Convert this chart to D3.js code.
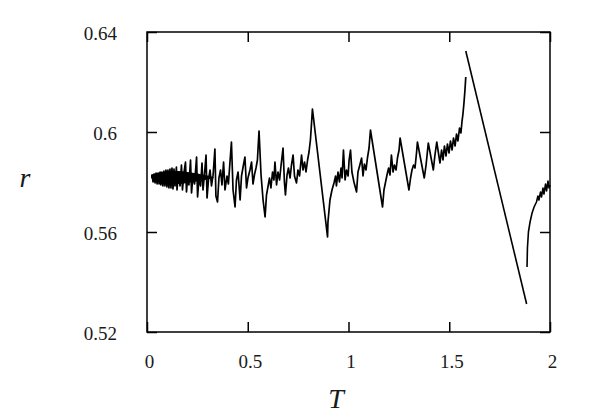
<!DOCTYPE html>
<html>
<head>
<meta charset="utf-8">
<script src="https://cdn.jsdelivr.net/npm/d3@7"></script>
<style>
  html, body { margin: 0; padding: 0; background: #fff; }
  svg { display: block; }
  text { font-family: "Liberation Serif", "DejaVu Serif", serif; fill: #1a1a1a; }
</style>
</head>
<body>
<svg id="chart" width="598" height="419"></svg>
<script>
// ---- data (T, r) ----
const xTicks = [0, 0.5, 1, 1.5, 2];
const xTickLabels = ["0", "0.5", "1", "1.5", "2"];
const yTicks = [0.52, 0.56, 0.6, 0.64];
const yTickLabels = ["0.52", "0.56", "0.6", "0.64"];

// main jagged branch, T = 0.025 ... 1.582
const branchMain = [
  [0.025,0.5828],[0.030,0.5800],[0.035,0.5832],[0.040,0.5796],[0.045,0.5836],[0.050,0.5792],
  [0.055,0.5836],[0.060,0.5792],[0.065,0.5840],[0.069,0.5788],[0.074,0.5840],[0.079,0.5784],
  [0.084,0.5844],[0.089,0.5784],[0.094,0.5848],[0.099,0.5780],[0.104,0.5848],[0.109,0.5776],
  [0.114,0.5852],[0.119,0.5776],[0.124,0.5856],[0.129,0.5772],[0.134,0.5852],[0.139,0.5784],
  [0.146,0.5860],[0.149,0.5768],[0.156,0.5840],[0.164,0.5784],[0.171,0.5868],[0.176,0.5768],
  [0.184,0.5840],[0.191,0.5880],[0.196,0.5760],[0.203,0.5832],[0.208,0.5788],[0.216,0.5888],
  [0.221,0.5756],[0.228,0.5824],[0.236,0.5792],[0.246,0.5900],[0.251,0.5740],[0.258,0.5816],
  [0.266,0.5784],[0.273,0.5876],[0.278,0.5768],[0.285,0.5828],[0.293,0.5908],[0.298,0.5736],
  [0.305,0.5808],[0.313,0.5848],[0.320,0.5784],[0.328,0.5828],[0.337,0.5932],[0.342,0.5744],
  [0.350,0.5720],[0.357,0.5816],[0.365,0.5848],[0.372,0.5788],[0.380,0.5880],[0.387,0.5768],
  [0.397,0.5824],[0.404,0.5792],[0.419,0.5960],[0.427,0.5768],[0.437,0.5700],[0.444,0.5808],
  [0.452,0.5840],[0.462,0.5728],[0.469,0.5824],[0.476,0.5856],[0.486,0.5900],[0.494,0.5776],
  [0.501,0.5816],[0.511,0.5848],[0.519,0.5880],[0.526,0.5792],[0.534,0.5832],[0.541,0.5856],
  [0.548,0.5888],[0.556,0.6004],[0.566,0.5828],[0.576,0.5728],[0.586,0.5660],[0.593,0.5748],
  [0.601,0.5784],[0.608,0.5816],[0.615,0.5776],[0.623,0.5840],[0.630,0.5808],[0.635,0.5880],
  [0.643,0.5788],[0.650,0.5840],[0.658,0.5808],[0.665,0.5864],[0.675,0.5936],[0.682,0.5800],
  [0.687,0.5748],[0.695,0.5828],[0.702,0.5856],[0.710,0.5816],[0.717,0.5868],[0.725,0.5908],
  [0.732,0.5824],[0.742,0.5796],[0.749,0.5848],[0.757,0.5824],[0.767,0.5908],[0.774,0.5848],
  [0.782,0.5880],[0.789,0.5840],[0.797,0.5888],[0.804,0.5920],[0.811,0.5968],[0.816,0.6028],
  [0.821,0.6092],[0.896,0.5580],[0.898,0.5640],[0.908,0.5728],[0.918,0.5768],[0.928,0.5796],
  [0.936,0.5824],[0.940,0.5784],[0.948,0.5840],[0.955,0.5800],[0.963,0.5856],[0.968,0.5816],
  [0.975,0.5928],[0.983,0.5808],[0.990,0.5848],[0.998,0.5824],[1.003,0.5888],[1.010,0.5928],
  [1.017,0.5840],[1.027,0.5800],[1.040,0.5760],[1.047,0.5840],[1.055,0.5864],[1.065,0.5896],
  [1.072,0.5824],[1.079,0.5872],[1.087,0.5848],[1.094,0.5896],[1.102,0.5936],[1.109,0.6008],
  [1.169,0.5700],[1.176,0.5768],[1.184,0.5800],[1.191,0.5828],[1.199,0.5856],[1.206,0.5828],
  [1.213,0.5908],[1.221,0.5840],[1.228,0.5868],[1.236,0.5848],[1.243,0.5896],[1.251,0.5928],
  [1.256,0.5976],[1.300,0.5768],[1.308,0.5816],[1.315,0.5848],[1.323,0.5868],[1.330,0.5856],
  [1.338,0.5920],[1.342,0.5960],[1.376,0.5816],[1.385,0.5868],[1.390,0.5908],[1.396,0.5956],
  [1.421,0.5848],[1.429,0.5908],[1.438,0.5960],[1.454,0.5876],[1.462,0.5928],[1.469,0.5888],
  [1.476,0.5944],[1.484,0.5904],[1.491,0.5952],[1.499,0.5916],[1.506,0.5964],[1.514,0.5928],
  [1.521,0.5976],[1.529,0.5944],[1.536,0.5992],[1.543,0.5964],[1.551,0.6016],[1.558,0.5996],
  [1.563,0.6040],[1.568,0.6072],[1.573,0.6116],[1.578,0.6168],[1.582,0.6220]
];

// dense core of the low-T band: [T, r low, r high]
const coreBand = [
  [0.020,0.5816,0.5830],[0.050,0.5802,0.5836],[0.100,0.5794,0.5842],[0.150,0.5792,0.5844],
  [0.200,0.5796,0.5840],[0.250,0.5802,0.5834],[0.300,0.5810,0.5826],[0.330,0.5816,0.5820]
];

// long straight descent, T = 1.582 ... 1.884
const branchDrop = [[1.582,0.6324],[1.884,0.5312]];

// last branch, T = 1.886 ... 2
const branchEnd = [
  [1.886,0.5460],[1.888,0.5536],[1.893,0.5600],[1.901,0.5640],[1.911,0.5676],[1.921,0.5700],
  [1.933,0.5720],[1.940,0.5744],[1.945,0.5728],[1.953,0.5760],[1.958,0.5740],[1.965,0.5776],
  [1.970,0.5752],[1.978,0.5792],[1.983,0.5764],[1.990,0.5804],[1.995,0.5776],[2.000,0.5788]
];

// ---- drawing ----
const svg = d3.select("#chart");
const L = 147, R = 550, T0 = 32, B = 332;
const x = d3.scaleLinear().domain([0, 2]).range([L, R]);
const y = d3.scaleLinear().domain([0.52, 0.64]).range([B, T0]);

const line = d3.line().x(d => x(d[0])).y(d => y(d[1]));
const area = d3.area().x(d => x(d[0])).y0(d => y(d[1])).y1(d => y(d[2])).curve(d3.curveMonotoneX);

const plot = svg.append("g");
plot.append("path").attr("d", area(coreBand)).attr("fill", "#000");
plot.append("path").attr("d", line(branchMain))
  .attr("fill", "none").attr("stroke", "#000")
  .attr("stroke-width", 1.7).attr("stroke-linejoin", "round");
[branchDrop, branchEnd].forEach(b => {
  plot.append("path").attr("d", line(b))
    .attr("fill", "none").attr("stroke", "#000")
    .attr("stroke-width", 1.6).attr("stroke-linejoin", "round");
});

// axes with inward ticks
const tickLen = 10;
function styleAxis(g) {
  g.select(".domain").remove();
  g.selectAll(".tick line").attr("stroke", "#000").attr("stroke-width", 1.5);
}
const xb = svg.append("g").attr("transform", `translate(0,${B})`)
  .call(d3.axisBottom(x).tickValues(xTicks).tickSize(-tickLen)
        .tickFormat((d, i) => xTickLabels[i]));
styleAxis(xb);
xb.selectAll(".tick text").attr("y", 0).attr("dy", 0).attr("dx", 2)
  .attr("transform", "translate(0,36)").attr("font-size", 19)
  .style("font-family", '"Liberation Serif", serif').attr("fill", "#222");

const xt = svg.append("g").attr("transform", `translate(0,${T0})`)
  .call(d3.axisTop(x).tickValues(xTicks).tickSize(-tickLen).tickFormat(""));
styleAxis(xt);

const yl = svg.append("g").attr("transform", `translate(${L},0)`)
  .call(d3.axisLeft(y).tickValues(yTicks).tickSize(-tickLen)
        .tickFormat((d, i) => yTickLabels[i]));
styleAxis(yl);
yl.selectAll(".tick text").attr("x", -30).attr("dy", 0).attr("y", 7)
  .attr("font-size", 19).attr("text-anchor", "end")
  .style("font-family", '"Liberation Serif", serif').attr("fill", "#222");

const yr = svg.append("g").attr("transform", `translate(${R},0)`)
  .call(d3.axisRight(y).tickValues(yTicks).tickSize(-tickLen).tickFormat(""));
styleAxis(yr);

// frame
svg.append("rect").attr("x", L).attr("y", T0).attr("width", R - L).attr("height", B - T0)
  .attr("fill", "none").attr("stroke", "#000").attr("stroke-width", 1.5);

// axis titles
svg.append("text").attr("x", 336).attr("y", 408).attr("text-anchor", "middle")
  .attr("font-size", 28).attr("font-style", "italic").text("T");
svg.append("text").attr("x", 25).attr("y", 187).attr("text-anchor", "middle")
  .attr("font-size", 28).attr("font-style", "italic").text("r");
</script>
</body>
</html>
